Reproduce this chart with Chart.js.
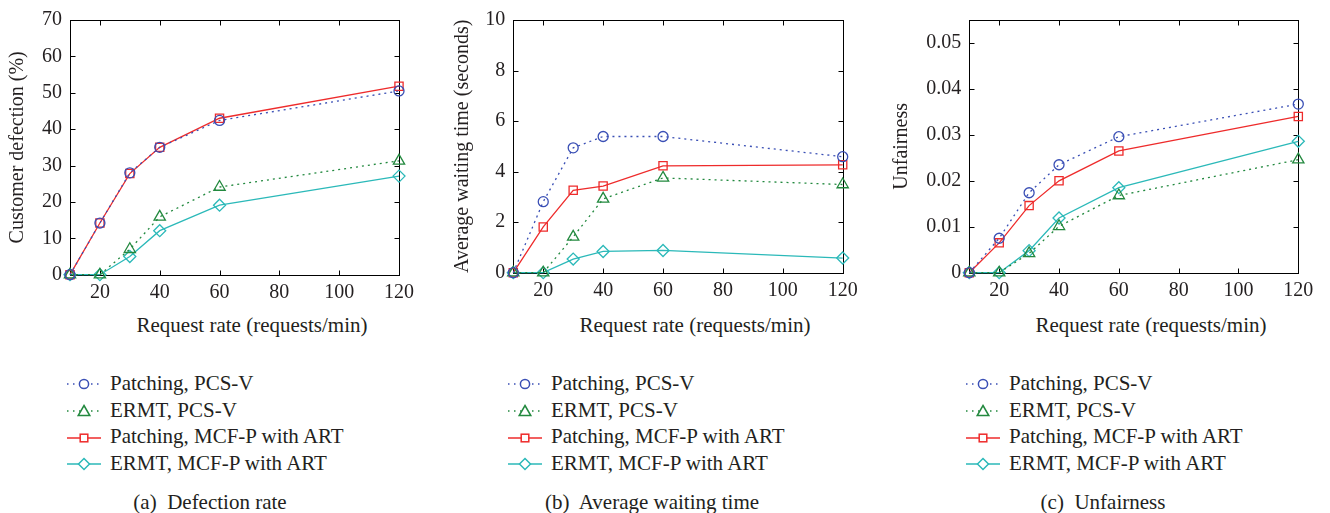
<!DOCTYPE html>
<html>
<head>
<meta charset="utf-8">
<script src="https://cdn.jsdelivr.net/npm/chart.js@4"></script>
<style>
  body { margin: 0; background: #fff; width: 1330px; height: 513px; position: relative; overflow: hidden;
         font-family: "Liberation Serif", "DejaVu Serif", serif; color: #231f20; }
  canvas { position: absolute; top: 0; }
  .xtitle, .caption { position: absolute; font-size: 21px; line-height: 1; white-space: pre; transform: translate(-50%, -50%); }
  .legend { position: absolute; top: 370px; font-size: 21px; }
  .legend div { height: 26.7px; line-height: 26.7px; white-space: nowrap; }
  .legend svg { vertical-align: middle; margin-right: 9px; position: relative; top: -1px; }
</style>
</head>
<body>
<canvas id="chartA" width="420" height="310" style="left:0px"></canvas>
<canvas id="chartB" width="440" height="310" style="left:440px"></canvas>
<canvas id="chartC" width="440" height="310" style="left:880px"></canvas>

<div class="xtitle" style="left:252px; top:325px">Request rate (requests/min)</div>
<div class="xtitle" style="left:695px; top:325px">Request rate (requests/min)</div>
<div class="xtitle" style="left:1151px; top:325px">Request rate (requests/min)</div>

<div class="legend" id="legendA" style="left:67px"></div>
<div class="legend" id="legendB" style="left:508px"></div>
<div class="legend" id="legendC" style="left:966px"></div>

<div class="caption" style="left:210px; top:502px">(a)  Defection rate</div>
<div class="caption" style="left:652px; top:502px">(b)  Average waiting time</div>
<div class="caption" style="left:1103px; top:502px">(c)  Unfairness</div>

<script>
// Taxa de requisições (eixo x comum aos 3 gráficos)
const xValues = [10, 20, 30, 40, 60, 120];
const xTicks = [20, 40, 60, 80, 100, 120];

const seriesNames = ['Patching, PCS-V', 'ERMT, PCS-V', 'Patching, MCF-P with ART', 'ERMT, MCF-P with ART'];

// (a) Defection rate (%)
const defPatchPCS = [0, 14.2, 28, 35, 42.4, 50.5];
const defErmtPCS  = [0, 0, 7, 15.9, 24.1, 31.3];
const defPatchMCF = [0, 14.2, 27.8, 35, 43, 51.8];
const defErmtMCF  = [0, 0, 5, 12.1, 19.1, 27.1];
const defTicks = [0, 10, 20, 30, 40, 50, 60, 70];

// (b) Average waiting time (seconds)
const waitPatchPCS = [0, 2.81, 4.94, 5.39, 5.39, 4.59];
const waitErmtPCS  = [0, 0, 1.42, 2.92, 3.75, 3.49];
const waitPatchMCF = [0, 1.81, 3.26, 3.43, 4.23, 4.27];
const waitErmtMCF  = [0, 0, 0.54, 0.84, 0.88, 0.58];
const waitTicks = [0, 2, 4, 6, 8, 10];

// (c) Unfairness
const unfPatchPCS = [0, 0.0075, 0.0174, 0.0235, 0.0296, 0.0367];
const unfErmtPCS  = [0, 0, 0.0042, 0.0101, 0.0168, 0.0246];
const unfPatchMCF = [0, 0.0065, 0.0146, 0.02, 0.0265, 0.034];
const unfErmtMCF  = [0, 0, 0.0048, 0.0119, 0.0185, 0.0286];
const unfTicks = [0, 0.01, 0.02, 0.03, 0.04, 0.05];

// estilo de cada série (mesma ordem de seriesNames)
const styles = [
  { color: '#3a4fb5', dash: [2, 4], point: 'circle', radius: 5 },
  { color: '#23893f', dash: [2, 4], point: 'triangle', radius: 6.5 },
  { color: '#ee2b2b', dash: [], point: 'rect', radius: 5.8 },
  { color: '#2bb9b9', dash: [], point: 'rectRot', radius: 6 }
];

const FONT = "'Liberation Serif', 'DejaVu Serif', serif";
const INK = '#231f20';

// moldura com ticks para dentro (estilo matlab)
const boxFrame = {
  id: 'boxFrame',
  beforeDatasetsDraw(chart) {
    const { ctx, chartArea: a, scales: { x, y } } = chart;
    const L = Math.round(a.left) + 0.5, R = Math.round(a.right) + 0.5;
    const T = Math.round(a.top) + 0.5, B = Math.round(a.bottom) + 0.5;
    ctx.save();
    ctx.strokeStyle = '#000';
    ctx.lineWidth = 1;
    ctx.strokeRect(L, T, R - L, B - T);
    ctx.beginPath();
    x.ticks.forEach(t => {
      const px = Math.round(x.getPixelForValue(t.value)) + 0.5;
      ctx.moveTo(px, B); ctx.lineTo(px, B - 5);
      ctx.moveTo(px, T); ctx.lineTo(px, T + 5);
    });
    y.ticks.forEach(t => {
      const py = Math.round(y.getPixelForValue(t.value)) + 0.5;
      ctx.moveTo(L, py); ctx.lineTo(L + 5, py);
      ctx.moveTo(R, py); ctx.lineTo(R - 5, py);
    });
    ctx.stroke();
    ctx.restore();
  }
};

function makeChart(id, cfg) {
  const datasets = cfg.series.map((data, i) => ({
    label: seriesNames[i],
    data: xValues.map((x, k) => ({ x: x, y: data[k] })),
    borderColor: styles[i].color,
    borderWidth: 1.3,
    borderDash: styles[i].dash,
    pointStyle: styles[i].point,
    pointRadius: styles[i].radius,
    pointBorderWidth: 1.3,
    pointBackgroundColor: 'rgba(0,0,0,0)',
    pointBorderColor: styles[i].color,
    tension: 0,
    clip: false
  }));
  return new Chart(document.getElementById(id), {
    type: 'line',
    data: { datasets: datasets },
    options: {
      responsive: false,
      animation: false,
      layout: { padding: { top: cfg.top, right: cfg.right, left: 0, bottom: 0 } },
      plugins: { legend: { display: false }, tooltip: { enabled: false } },
      scales: {
        x: {
          type: 'linear', min: 10, max: 120,
          grid: { display: false, drawTicks: false },
          border: { display: false },
          afterBuildTicks: s => { s.ticks = xTicks.map(v => ({ value: v })); },
          afterFit: s => { s.height = cfg.xh; },
          ticks: { padding: 6, color: INK, font: { family: FONT, size: 20 }, maxRotation: 0, callback: v => String(v) }
        },
        y: {
          type: 'linear', min: cfg.yMin, max: cfg.yMax,
          grid: { display: false, drawTicks: false },
          border: { display: false },
          afterBuildTicks: s => { s.ticks = cfg.yTicks.map(v => ({ value: v })); },
          afterFit: s => { s.width = cfg.yw; },
          ticks: { padding: 8, color: INK, font: { family: FONT, size: 20 }, callback: v => String(v) },
          title: { display: true, text: cfg.yTitle, color: INK, font: { family: FONT, size: 20 }, padding: { top: cfg.titlePad, bottom: 0 } }
        }
      }
    },
    plugins: [boxFrame]
  });
}

makeChart('chartA', {
  series: [defPatchPCS, defErmtPCS, defPatchMCF, defErmtMCF],
  yMin: 0, yMax: 70, yTicks: defTicks, yTitle: 'Customer defection (%)',
  yw: 70, top: 15.7, right: 20.5, xh: 35.3, titlePad: 6
});

makeChart('chartB', {
  series: [waitPatchPCS, waitErmtPCS, waitPatchMCF, waitErmtMCF],
  yMin: 0, yMax: 10, yTicks: waitTicks, yTitle: 'Average waiting time (seconds)',
  yw: 73.3, top: 14.3, right: 37.3, xh: 37.3, titlePad: 11
});

makeChart('chartC', {
  series: [unfPatchPCS, unfErmtPCS, unfPatchMCF, unfErmtMCF],
  yMin: 0, yMax: 0.055, yTicks: unfTicks, yTitle: 'Unfairness',
  yw: 89.3, top: 14.3, right: 21.7, xh: 37.3, titlePad: 10
});

// legendas em HTML com amostra da linha + marcador
function markerSvg(s) {
  const c = s.color, cx = 17, cy = 10;
  let m = '';
  if (s.point === 'circle') m = `<circle cx="${cx}" cy="${cy}" r="4.6" fill="#fff" stroke="${c}" stroke-width="1.5"/>`;
  if (s.point === 'triangle') m = `<polygon points="${cx},${cy - 5.5} ${cx + 5.8},${cy + 4.5} ${cx - 5.8},${cy + 4.5}" fill="#fff" stroke="${c}" stroke-width="1.5"/>`;
  if (s.point === 'rect') m = `<rect x="${cx - 3.8}" y="${cy - 3.8}" width="7.6" height="7.6" fill="#fff" stroke="${c}" stroke-width="1.5"/>`;
  if (s.point === 'rectRot') m = `<polygon points="${cx},${cy - 5.5} ${cx + 5.5},${cy} ${cx},${cy + 5.5} ${cx - 5.5},${cy}" fill="#fff" stroke="${c}" stroke-width="1.5"/>`;
  const dash = s.dash.length ? `stroke-dasharray="1.5 4.5"` : '';
  return `<svg width="34" height="20"><line x1="0" y1="${cy}" x2="34" y2="${cy}" stroke="${c}" stroke-width="1.5" ${dash}/>${m}</svg>`;
}

['legendA', 'legendB', 'legendC'].forEach(id => {
  document.getElementById(id).innerHTML = seriesNames
    .map((name, i) => `<div>${markerSvg(styles[i])}${name}</div>`).join('');
});
</script>
</body>
</html>
